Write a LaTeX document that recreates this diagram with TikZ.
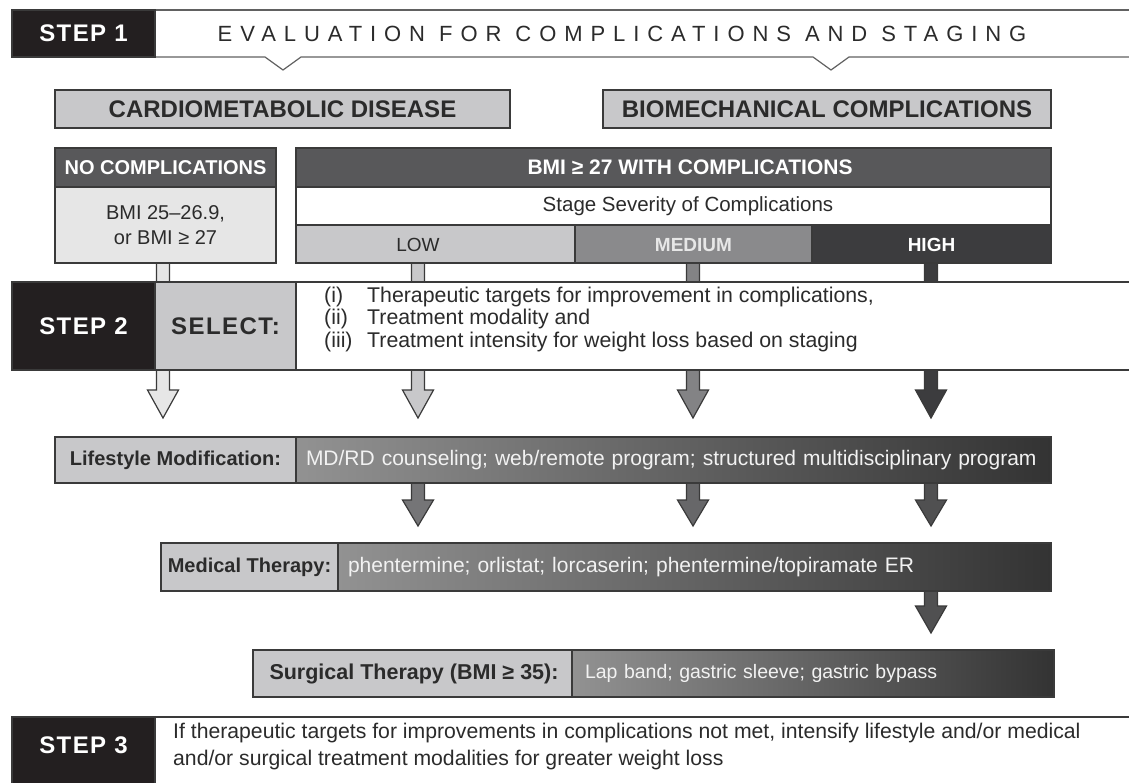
\documentclass[tikz,border=0pt]{standalone}
\usepackage{fontspec}
\setmainfont{Liberation Sans}
\newfontfamily\trackA[LetterSpace=36]{Liberation Sans}
\newfontfamily\trackB[LetterSpace=6]{Liberation Sans}
\definecolor{stepblack}{HTML}{231F20}
\definecolor{lg}{HTML}{C8C8CA}
\definecolor{vlg}{HTML}{E6E6E6}
\definecolor{dg}{HTML}{58585A}
\definecolor{mg}{HTML}{8A8A8C}
\definecolor{hg}{HTML}{3C3C3E}
\definecolor{lc}{HTML}{3A3A3A}
\definecolor{tx}{HTML}{2B2B2B}
\definecolor{gl}{HTML}{929292}
\definecolor{gr}{HTML}{333333}
\definecolor{wt}{HTML}{F2F2F2}
\newcommand{\farrow}[5]{%
  \draw[lc, line width=1.2pt, fill=#5, line join=miter]
    (#1-6.5,#2) -- (#1-6.5,#3) -- (#1-15.5,#3) -- (#1,#4) -- (#1+15.5,#3) -- (#1+6.5,#3) -- (#1+6.5,#2);}
\begin{document}
\begin{tikzpicture}[x=1pt,y=-1pt,
  bx/.style={draw=lc, line width=1.2pt, inner sep=0pt, outer sep=0pt},
  stepbox/.style={bx, fill=stepblack, text=white, font=\trackB\fontsize{24}{26}\selectfont\bfseries, minimum width=143pt},
  big/.style={font=\fontsize{24}{26}\selectfont\bfseries, text=tx},
  body/.style={font=\fontsize{20}{22}\selectfont, text=tx},
  bodyb/.style={font=\fontsize{20}{22}\selectfont\bfseries, text=tx},
  grad/.style={bx, left color=gl, right color=gr, text=wt, font=\fontsize{21}{23}\selectfont, align=left, inner xsep=10pt}
]
\useasboundingbox (0,0) rectangle (1129,782);
\fill[white] (0,0) rectangle (1129,782);

% ---------- STEP 1 band
\fill[white] (155,10) -- (1140,10) -- (1140,57) -- (849,57) -- (831,70) -- (813,57) -- (301,57) -- (283,70) -- (265,57) -- (155,57) -- cycle;
\draw[lc!80, line width=1.2pt] (155,10) -- (1140,10);
\draw[lc!80, line width=1.2pt, line join=miter] (155,57) -- (265,57) -- (283,70) -- (301,57) -- (813,57) -- (831,70) -- (849,57) -- (1140,57);
\node[stepbox, minimum height=47pt] (s1) at (83.5,33.5) {STEP 1};
\node[font=\trackA\fontsize{22}{24}\selectfont, text=tx] (title) at (622,33.5) {EVALUATION FOR COMPLICATIONS AND STAGING};

% ---------- disease boxes
\node[bx, fill=lg, minimum width=455pt, minimum height=38pt, big] (cardio) at (282.5,109) {CARDIOMETABOLIC DISEASE};
\node[bx, fill=lg, minimum width=448pt, minimum height=38pt, big] (bio) at (827,109) {BIOMECHANICAL COMPLICATIONS};

% ---------- arrows from severity row (drawn behind)
\farrow{163}{263}{390}{418}{vlg}
\farrow{418}{263}{390}{418}{lg}
\farrow{693}{263}{390}{418}{mg!95!black}
\farrow{931}{263}{390}{418}{hg}

% ---------- no complications
\node[bx, fill=dg, minimum width=221pt, minimum height=39pt, bodyb, text=white] (nch) at (165.5,167.5) {NO COMPLICATIONS};
\node[bx, fill=vlg, minimum width=221pt, minimum height=76pt, body, align=center, font=\fontsize{20}{25}\selectfont] (ncb) at (165.5,225) {BMI 25–26.9,\\or BMI ≥ 27};

% ---------- with complications
\node[bx, fill=dg, minimum width=755pt, minimum height=39pt] (bmih) at (673.5,167.5) {};
\node[font=\fontsize{21}{23}\selectfont\bfseries, text=white] (bmiht) at (690,167.5) {BMI ≥ 27 WITH COMPLICATIONS};
\node[bx, fill=white, minimum width=755pt, minimum height=38pt] (stage) at (673.5,206) {};
\node[font=\fontsize{20.5}{23}\selectfont, text=tx] (staget) at (688,206) {Stage Severity of Complications};
\node[bx, fill=lg, minimum width=279pt, minimum height=38pt] (low) at (435.5,244) {};
\node[bx, fill=mg, minimum width=237pt, minimum height=38pt] (med) at (693.5,244) {};
\node[bx, fill=hg, minimum width=239pt, minimum height=38pt] (high) at (931.5,244) {};
\node[font=\fontsize{19}{21}\selectfont, text=tx] (lowt) at (418,245) {LOW};
\node[font=\fontsize{19}{21}\selectfont\bfseries, text=wt!90!gray] (medt) at (693.5,245) {MEDIUM};
\node[font=\fontsize{19}{21}\selectfont\bfseries, text=white] (hight) at (931.5,245) {HIGH};

% ---------- STEP 2
\node[bx, fill=white, minimum width=850pt, minimum height=88pt] (selbox) at (721,326) {};
\node[stepbox, minimum height=88pt] (s2) at (83.5,326) {STEP 2};
\node[bx, fill=lg, minimum width=141pt, minimum height=88pt, font=\trackB\fontsize{24}{26}\selectfont\bfseries, text=tx] (select) at (225.5,326) {SELECT:};
\node[anchor=west, inner sep=0pt, font=\fontsize{21.3}{22.5}\selectfont, text=tx] (list) at (324,320) {\begin{tabular}{@{}p{43pt}@{}l@{}}
(i) & Therapeutic targets for improvement in complications,\\
(ii) & Treatment modality and\\
(iii) & Treatment intensity for weight loss based on staging
\end{tabular}};

% ---------- Lifestyle
\farrow{418}{483}{500}{526}{mg!85!black}
\farrow{693}{483}{500}{526}{mg!75!black}
\farrow{931}{483}{500}{526}{hg!90!white}
\node[bx, fill=lg, minimum width=241pt, minimum height=46pt, bodyb] (lifel) at (175.5,460) {Lifestyle Modification:};
\node[grad, text width=735pt, minimum height=46pt] (lifer) at (673.5,460) {MD/RD counseling; web/remote program; structured multidisciplinary program};

% ---------- Medical
\farrow{931}{591}{606}{633}{hg!90!white}
\node[bx, fill=lg, minimum width=177pt, minimum height=48pt, bodyb] (medl) at (249.5,567) {Medical Therapy:};
\node[grad, text width=693pt, minimum height=48pt] (medr) at (694.5,567) {phentermine; orlistat; lorcaserin; phentermine/topiramate ER};

% ---------- Surgical
\node[bx, fill=lg, minimum width=322pt, minimum height=47pt, font=\fontsize{21.5}{23}\selectfont\bfseries, text=tx] (surgl) at (414,673.5) {Surgical Therapy (BMI ≥ 35):};
\node[grad, text width=456pt, minimum height=47pt, font=\fontsize{19.5}{22}\selectfont, inner xsep=13pt] (surgr) at (813,673.5) {Lap band; gastric sleeve; gastric bypass};

% ---------- STEP 3
\node[bx, fill=white, minimum width=1000pt, minimum height=80pt] (s3box) at (655,757) {};
\node[stepbox, minimum height=80pt] (s3) at (83.5,757) {};
\node[text=white, font=\trackB\fontsize{24}{26}\selectfont\bfseries] (s3t) at (83.5,745) {STEP 3};
\node[anchor=west, inner sep=0pt, align=left, font=\fontsize{21.2}{27}\selectfont, text=tx] (s3text) at (173,746.5) {If therapeutic targets for improvements in complications not met, intensify lifestyle and/or medical\\and/or surgical treatment modalities for greater weight loss};
\end{tikzpicture}
\end{document}
